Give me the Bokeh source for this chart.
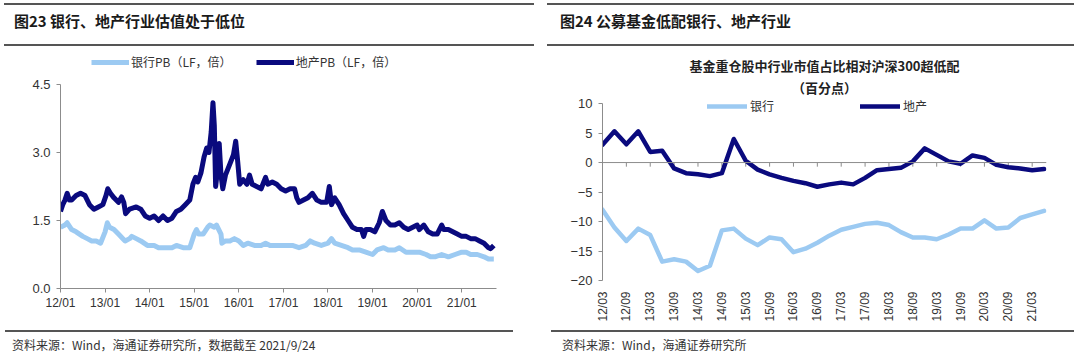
import math
from bokeh.plotting import figure
from bokeh.models import Range1d, FixedTicker, Legend, LegendItem, Div, Title, Span
from bokeh.layouts import row, column
from bokeh.embed import file_html
from bokeh.resources import INLINE

# ---------------- left chart data (PB, decimal year) ----------------
prop_t = [2012.0, 2012.05, 2012.1, 2012.15, 2012.2, 2012.25, 2012.35, 2012.45, 2012.55, 2012.65,
          2012.75, 2012.85, 2012.95, 2013.02, 2013.06, 2013.12, 2013.2, 2013.3, 2013.37, 2013.42,
          2013.46, 2013.55, 2013.7, 2013.8, 2013.9, 2014.0, 2014.1, 2014.2, 2014.3, 2014.4,
          2014.5, 2014.6, 2014.7, 2014.8, 2014.9, 2014.97, 2015.03, 2015.08, 2015.15, 2015.22,
          2015.28, 2015.33, 2015.38, 2015.42, 2015.45, 2015.48, 2015.52, 2015.56, 2015.6, 2015.64,
          2015.7, 2015.76, 2015.82, 2015.88, 2015.93, 2015.97, 2016.02, 2016.1, 2016.18, 2016.24,
          2016.3, 2016.4, 2016.5, 2016.6, 2016.65, 2016.75, 2016.85, 2016.95, 2017.05, 2017.15,
          2017.25, 2017.3, 2017.35, 2017.45, 2017.55, 2017.65, 2017.75, 2017.85, 2017.97, 2018.03,
          2018.08, 2018.15, 2018.25, 2018.35, 2018.45, 2018.55, 2018.65, 2018.75, 2018.8, 2018.85,
          2018.95, 2019.05, 2019.15, 2019.22, 2019.3, 2019.4, 2019.5, 2019.6, 2019.7, 2019.8,
          2019.9, 2020.0, 2020.05, 2020.15, 2020.25, 2020.35, 2020.45, 2020.55, 2020.6, 2020.7,
          2020.8, 2020.9, 2021.0, 2021.1, 2021.2, 2021.3, 2021.4, 2021.5, 2021.6, 2021.65, 2021.72]
prop_pb = [1.70, 1.85, 1.95, 2.10, 1.95, 1.95, 2.05, 2.10, 2.05, 1.85,
           1.75, 1.80, 1.85, 2.05, 2.20, 2.10, 2.00, 1.90, 2.02, 1.90,
           1.65, 1.75, 1.80, 1.75, 1.60, 1.55, 1.60, 1.50, 1.60, 1.50,
           1.55, 1.70, 1.75, 1.85, 1.95, 2.30, 2.45, 2.35, 2.55, 2.90,
           3.10, 3.00, 3.45, 4.10, 3.60, 2.25, 2.60, 3.20, 2.50, 2.20,
           2.50, 2.65, 2.80, 2.95, 3.25, 2.85, 2.30, 2.40, 2.30, 2.50,
           2.30, 2.25, 2.20, 2.45, 2.30, 2.35, 2.30, 2.20, 2.15, 2.20,
           2.20, 2.00, 1.90, 1.95, 2.00, 2.10, 1.95, 1.90, 1.90, 2.25,
           1.85, 2.00, 1.85, 1.65, 1.50, 1.35, 1.30, 1.30, 1.15, 1.30,
           1.30, 1.25, 1.45, 1.70, 1.50, 1.40, 1.40, 1.45, 1.35, 1.30,
           1.35, 1.40, 1.30, 1.40, 1.25, 1.20, 1.20, 1.40, 1.30, 1.30,
           1.25, 1.20, 1.15, 1.15, 1.10, 1.10, 1.05, 1.00, 0.90, 0.88, 0.95]

bank_t = [2012.0, 2012.1, 2012.15, 2012.25, 2012.35, 2012.5, 2012.6, 2012.7, 2012.8, 2012.9,
          2013.0, 2013.05, 2013.1, 2013.2, 2013.3, 2013.4, 2013.45, 2013.55, 2013.6, 2013.7,
          2013.8, 2013.95, 2014.1, 2014.2, 2014.35, 2014.5, 2014.6, 2014.75, 2014.9, 2015.0,
          2015.05, 2015.1, 2015.2, 2015.3, 2015.35, 2015.45, 2015.5, 2015.55, 2015.6, 2015.62,
          2015.7, 2015.8, 2015.9, 2016.0, 2016.1, 2016.2, 2016.35, 2016.5, 2016.6, 2016.7,
          2016.85, 2017.0, 2017.2, 2017.35, 2017.5, 2017.6, 2017.7, 2017.85, 2018.0, 2018.08,
          2018.15, 2018.3, 2018.45, 2018.55, 2018.7, 2018.85, 2019.0, 2019.1, 2019.25, 2019.35,
          2019.5, 2019.6, 2019.75, 2019.9, 2020.05, 2020.2, 2020.3, 2020.4, 2020.55, 2020.7,
          2020.85, 2021.0, 2021.1, 2021.2, 2021.35, 2021.5, 2021.6, 2021.72]
bank_pb = [1.35, 1.40, 1.45, 1.30, 1.25, 1.15, 1.10, 1.05, 1.05, 1.00,
           1.25, 1.45, 1.35, 1.30, 1.20, 1.10, 1.05, 1.10, 1.15, 1.10,
           1.05, 0.95, 0.95, 0.90, 0.90, 0.90, 0.95, 0.90, 0.90, 1.20,
           1.30, 1.20, 1.20, 1.35, 1.40, 1.35, 1.40, 1.30, 1.20, 1.00,
           1.05, 1.05, 1.10, 1.05, 0.95, 1.00, 0.95, 0.95, 1.00, 0.95,
           0.95, 0.95, 0.95, 0.90, 0.95, 1.05, 1.00, 0.95, 1.00, 1.10,
           1.00, 0.95, 0.90, 0.85, 0.85, 0.80, 0.75, 0.85, 0.90, 0.85,
           0.85, 0.90, 0.80, 0.80, 0.80, 0.75, 0.70, 0.70, 0.75, 0.70,
           0.75, 0.80, 0.80, 0.75, 0.75, 0.70, 0.65, 0.65]

left_ticks = [2012, 2013, 2014, 2015, 2016, 2017, 2018, 2019, 2020, 2021]
left_tick_labels = ["12/01", "13/01", "14/01", "15/01", "16/01", "17/01", "18/01", "19/01", "20/01", "21/01"]
left_yticks = [0.0, 1.5, 3.0, 4.5]

# ---------------- right chart data (percentage points, quarterly) ----------------
quarters = ["12/03", "12/06", "12/09", "12/12", "13/03", "13/06", "13/09", "13/12",
            "14/03", "14/06", "14/09", "14/12", "15/03", "15/06", "15/09", "15/12",
            "16/03", "16/06", "16/09", "16/12", "17/03", "17/06", "17/09", "17/12",
            "18/03", "18/06", "18/09", "18/12", "19/03", "19/06", "19/09", "19/12",
            "20/03", "20/06", "20/09", "20/12", "21/03", "21/06"]
bank_rel = [-8.0, -11.0, -13.3, -11.2, -12.3, -16.8, -16.4, -16.8,
            -18.4, -17.5, -11.5, -11.2, -12.9, -14.0, -12.7, -13.0,
            -15.2, -14.6, -13.6, -12.4, -11.4, -10.9, -10.4, -10.2,
            -10.6, -11.8, -12.7, -12.7, -13.0, -12.2, -11.2, -11.2,
            -9.8, -11.2, -11.0, -9.4, -8.8, -8.2]
prop_rel = [3.0, 5.3, 3.1, 5.3, 1.8, 2.0, -1.0, -1.8,
            -2.0, -2.3, -1.8, 4.0, 0.3, -1.2, -2.0, -2.6,
            -3.1, -3.5, -4.1, -3.7, -3.4, -3.7, -2.6, -1.3,
            -1.1, -0.9, 0.2, 2.4, 1.3, 0.2, -0.2, 1.2,
            0.8, -0.4, -0.8, -1.0, -1.3, -1.1]
right_yticks = [-20, -15, -10, -5, 0, 5, 10]

DARK = "#0a0a7e"
LIGHT = "#9ccaf2"
AXIS = "#8c8c8c"
TXT = "#333333"
CJK = "Noto Sans CJK SC"
LAT = "Liberation Sans"


def base_fig(**kw):
    p = figure(output_backend="svg", toolbar_location=None, **kw)
    p.outline_line_color = None
    p.xgrid.visible = False
    p.ygrid.visible = False
    p.background_fill_color = "white"
    p.border_fill_color = "white"
    for ax in (p.xaxis[0], p.yaxis[0]):
        ax.axis_line_color = AXIS
        ax.major_tick_line_color = AXIS
        ax.minor_tick_line_color = None
        ax.major_tick_in = 0
        ax.major_tick_out = 4
        ax.major_label_text_font = LAT
        ax.major_label_text_font_size = "12px"
        ax.major_label_text_color = TXT
    return p


# ---------------- left figure ----------------
# frame is extended above 4.5 so the legend sits inside it; the y axis is bounded to 0..4.5
p1 = base_fig(width=540, height=274, x_range=Range1d(2012.0, 2021.78), y_range=Range1d(0, 5.206),
              min_border_left=60, min_border_right=44, min_border_top=0, min_border_bottom=38)
p1.xaxis.ticker = FixedTicker(ticks=left_ticks)
p1.xaxis.major_label_overrides = {t: s for t, s in zip(left_ticks, left_tick_labels)}
p1.xaxis.major_label_standoff = 3
p1.yaxis.ticker = FixedTicker(ticks=left_yticks)
p1.yaxis.bounds = (left_yticks[0], left_yticks[-1])
p1.yaxis.major_label_overrides = {t: f"{t:.1f}" for t in left_yticks}
p1.yaxis.major_label_text_font_size = "13px"
p1.yaxis.major_label_standoff = 6

r_bank = p1.line(bank_t, bank_pb, line_color=LIGHT, line_width=5, line_join="round")
r_prop = p1.line(prop_t, prop_pb, line_color=DARK, line_width=5, line_join="round")
leg1 = Legend(items=[LegendItem(label="银行PB（LF，倍）", renderers=[r_bank]),
                     LegendItem(label="地产PB（LF，倍）", renderers=[r_prop])],
              orientation="horizontal", location=(31, 218), padding=0, margin=0,
              spacing=24, glyph_width=38, glyph_height=12, label_standoff=2,
              label_text_font=CJK, label_text_font_size="12px", label_text_color=TXT,
              border_line_color=None, background_fill_alpha=0)
p1.add_layout(leg1)

# ---------------- right figure ----------------
q_idx = list(range(len(quarters)))
tick_idx = q_idx[::2]
p2 = base_fig(width=540, height=274, x_range=Range1d(0, 37.2), y_range=Range1d(-20, 11.2),
              min_border_left=62, min_border_right=34, min_border_top=44, min_border_bottom=46)
p2.yaxis.ticker = FixedTicker(ticks=right_yticks)
p2.yaxis.bounds = (right_yticks[0], right_yticks[-1])
p2.yaxis.major_label_text_font_size = "13px"
p2.yaxis.major_label_standoff = 6
p2.xaxis.ticker = FixedTicker(ticks=tick_idx)
p2.xaxis.major_label_overrides = {i: quarters[i] for i in tick_idx}
p2.xaxis.major_label_orientation = math.pi / 2
p2.xaxis.axis_line_color = None
p2.xaxis.major_tick_line_color = None
p2.xaxis.major_label_standoff = 7

p2.add_layout(Span(location=0, dimension="width", line_color=AXIS, line_width=1))
p2.segment(x0=tick_idx[1:], y0=[0] * len(tick_idx[1:]), x1=tick_idx[1:], y1=[-0.7] * len(tick_idx[1:]),
           line_color=AXIS, line_width=1)

r2_bank = p2.line(q_idx, bank_rel, line_color=LIGHT, line_width=4.5, line_join="round", line_cap="round")
r2_prop = p2.line(q_idx, prop_rel, line_color=DARK, line_width=4.5, line_join="round", line_cap="round")
leg2 = Legend(items=[LegendItem(label="银行", renderers=[r2_bank]),
                     LegendItem(label="地产", renderers=[r2_prop])],
              orientation="horizontal", location=(105, 166), padding=0, margin=0,
              spacing=86, glyph_width=40, glyph_height=14, label_standoff=3,
              label_text_font=CJK, label_text_font_size="12px", label_text_color=TXT,
              border_line_color=None, background_fill_alpha=0)
p2.add_layout(leg2)

p2.add_layout(Title(text="（百分点）", align="center", text_font=CJK, text_font_size="13px",
                    text_font_style="bold", text_color="#222222", standoff=0, offset=0), "above")
p2.add_layout(Title(text="基金重仓股中行业市值占比相对沪深300超低配", align="center", text_font=CJK,
                    text_font_size="13px", text_font_style="bold", text_color="#222222",
                    standoff=2, offset=0), "above")


# ---------------- headers and sources ----------------
def header(title, l, w, tl):
    html = (f'<div style="position:relative;width:540px;height:52px;background:white;">'
            f'<div style="position:absolute;left:{l}px;top:3px;width:{w}px;border-top:2px solid #555;"></div>'
            f'<div style="position:absolute;left:{tl}px;top:11px;font-family:\'{CJK}\';font-weight:bold;'
            f'font-size:15px;color:#1a1a1a;white-space:nowrap;line-height:20px;">{title}</div>'
            f'<div style="position:absolute;left:{l}px;top:44px;width:{w}px;border-top:2px solid #555;"></div>'
            f'</div>')
    return Div(text=html, width=540, height=52, margin=(0, 0, 0, 0))


def source(text, l, w, tl):
    html = (f'<div style="position:relative;width:540px;height:30px;background:white;">'
            f'<div style="position:absolute;left:{l}px;top:4px;width:{w}px;border-top:2px solid #555;"></div>'
            f'<div style="position:absolute;left:{tl}px;top:11px;font-family:\'{CJK}\';'
            f'font-size:12px;color:#333;white-space:nowrap;line-height:16px;">{text}</div>'
            f'</div>')
    return Div(text=html, width=540, height=30, margin=(0, 0, 0, 0))


h1 = header("图23 银行、地产行业估值处于低位", 4, 530, 14)
h2 = header("图24 公募基金低配银行、地产行业", 7, 527, 20)
s1 = source("资料来源：Wind，海通证券研究所，数据截至 2021/9/24", 5, 508, 12)
s2 = source("资料来源：Wind，海通证券研究所", 11, 523, 22)

layout = row(column(h1, p1, s1, spacing=0), column(h2, p2, s2, spacing=0), spacing=0)
open("out.html", "w").write(file_html(layout, INLINE))
